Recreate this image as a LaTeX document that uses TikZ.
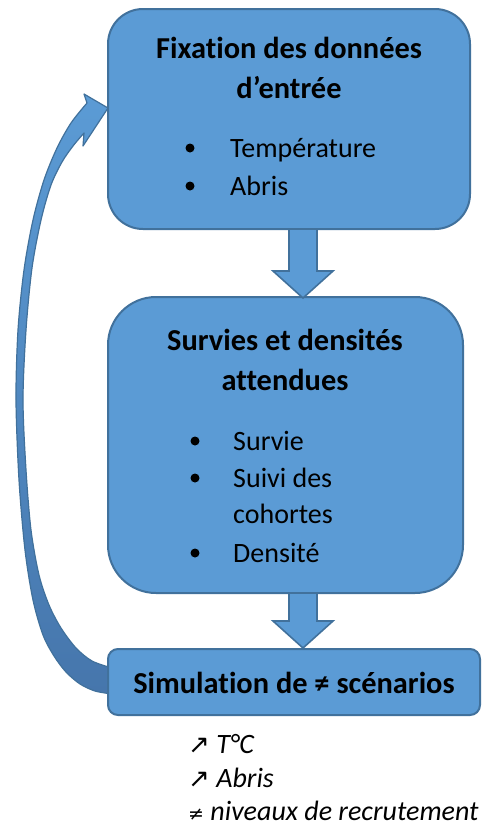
\documentclass[tikz,border=0pt]{standalone}
\usepackage{fontspec}
\setmainfont{Carlito}[Ligatures=NoCommon]
\newfontfamily\symb{DejaVu Sans}
\usetikzlibrary{calc}
\definecolor{bleu}{RGB}{91,155,213}
\definecolor{bord}{RGB}{65,113,156}
\definecolor{bleufonce}{RGB}{70,118,172}
\newcommand\grand{\fontsize{28}{34}\selectfont}
\newcommand\gras{\fontsize{30.4}{36}\selectfont\bfseries}
\tikzset{
  boite/.style={draw=bord, line width=2pt, fill=bleu, inner sep=0pt},
  titre/.style={font=\gras, anchor=base, inner sep=0pt},
  puce/.style={font=\grand, anchor=base west, inner sep=0pt},
  remarque/.style={font=\grand\itshape, anchor=base west, inner sep=0pt},
  fleche/.style={draw=bord, line width=1.6pt, fill=bleu, line join=miter},
}
\begin{document}
\begin{tikzpicture}[x=1pt,y=-1pt,line join=round]
\useasboundingbox (0,0) rectangle (489,836);
%% fleche de retour (courbe)
\path[draw=bord, line width=1.2pt, top color=bleu, bottom color=bleufonce]
  (84,94) -- (108,108) -- (83,146) -- (84,133)
  -- plot[smooth] coordinates {(84,133) (73,146) (62,162) (51,185) (41,220) (32,268) (26,330) (23,400) (26,470) (31,530) (39,575) (49,605) (61,628) (76,648) (92,661) (112,668)}
  -- (112,694)
  -- plot[smooth] coordinates {(112,694) (95,691) (80,684) (66,672) (54,656) (43,635) (33,600) (25,550) (19,480) (16,400) (18,330) (24,270) (33,220) (44,180) (57,148) (71,123) (87,103)}
  -- cycle;
%% les trois boites
\node[boite, rounded corners=35pt, minimum width=362pt, minimum height=220pt] (entree) at (289,119) {};
\node[boite, rounded corners=48pt, minimum width=355pt, minimum height=296pt] (survie) at (285.5,445) {};
\node[boite, rounded corners=10pt, minimum width=372pt, minimum height=66pt] (simu) at (294,682) {};
%% fleches entre les boites
\draw[fleche] ([xshift=-7pt]entree.south -| 296,0) -- ++(0,41) -- ++(-16,0) -- ++(30,27) -- ++(30,-27) -- ++(-16,0) -- ++(0,-41);
\draw[fleche] ([xshift=-7pt]survie.south -| 296,0) -- ++(0,27) -- ++(-16,0) -- ++(30,27) -- ++(30,-27) -- ++(-16,0) -- ++(0,-27);
%% textes
\node[titre] (t1) at (289,58) {Fixation des données};
\node[titre] (t2) at (289,98) {d’entrée};
\foreach \y/\mot [count=\i] in {157/Température,195/Abris}{
  \fill (190,\y-9) circle (4.5pt);
  \node[puce] (e\i) at (230,\y) {\mot};
}
\node[titre] (t3) at (285,350) {Survies et densités};
\node[titre] (t4) at (285,390) {attendues};
\foreach \y/\mot [count=\i] in {450/Survie,487/Suivi des,562/Densité}{
  \fill (195,\y-9) circle (4.5pt);
  \node[puce] (s\i) at (233,\y) {\mot};
}
\node[puce] (s4) at (233,523) {cohortes};
\node[titre] (t5) at (294,693) {Simulation de ≠ scénarios};
%% remarques sous la derniere boite
\node[remarque] (r1) at (188,753) {{\symb\fontsize{26}{28}\selectfont ↗}\ T°C};
\node[remarque] (r2) at (188,787) {{\symb\fontsize{26}{28}\selectfont ↗}\ Abris};
\node[remarque] (r3) at (188,820) {{\symb\fontsize{19}{28}\selectfont ≠} niveaux de recrutement};
\end{tikzpicture}
\end{document}
